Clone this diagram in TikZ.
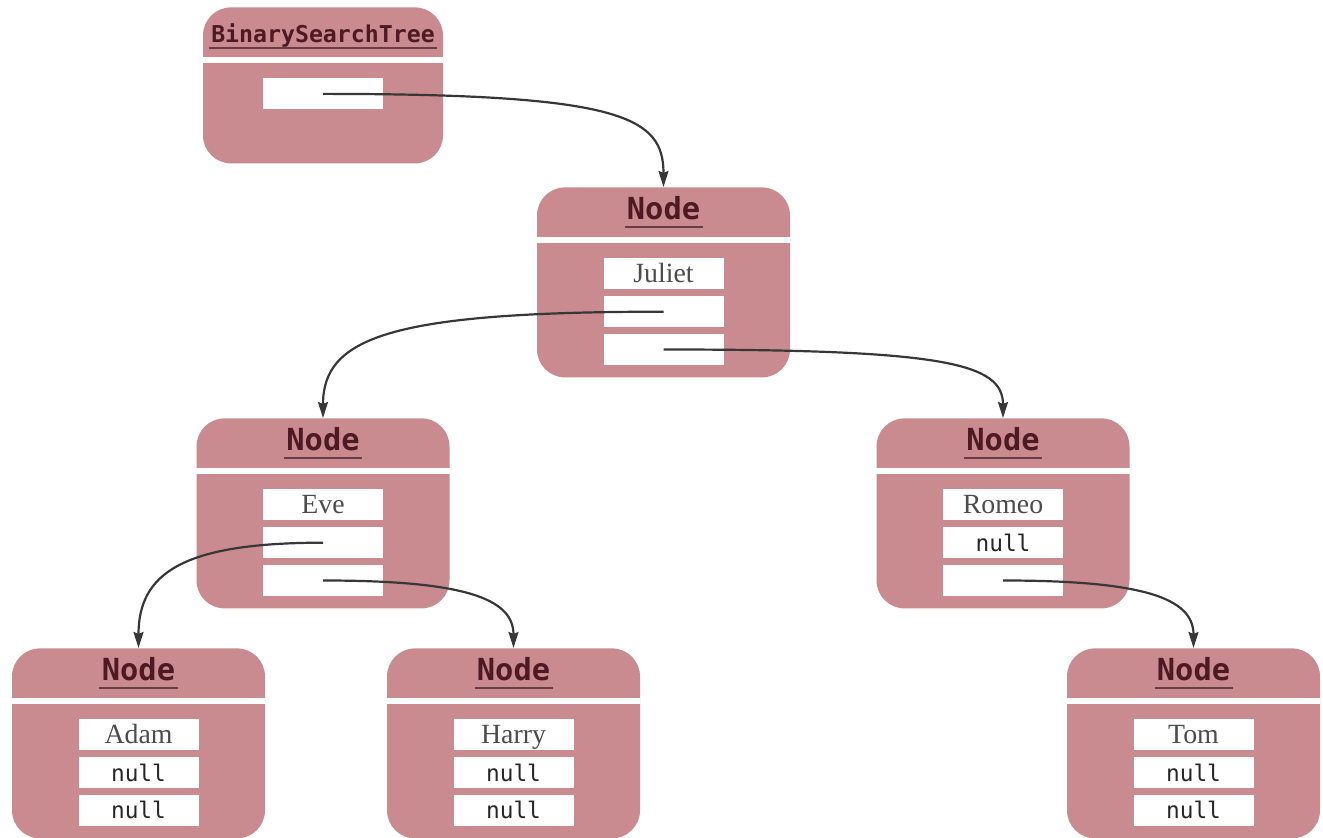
\documentclass[tikz,border=0pt]{standalone}
\usepackage{fontspec}
\setmainfont{Liberation Serif}
\newfontfamily\codefont{DejaVu Sans Mono}
\usepackage{xcolor}
\usetikzlibrary{positioning, arrows.meta}
\definecolor{boxpink}{RGB}{201,139,143}
\definecolor{titlered}{RGB}{77,26,36}
\definecolor{linegray}{RGB}{55,55,55}

\begin{document}
\begin{tikzpicture}[
  x=0.5pt, y=-0.5pt,
  node distance=3pt,
  classbox/.style={rectangle, rounded corners=14pt, fill=boxpink, minimum width=126.5pt,
                   minimum height=95pt, anchor=north, inner sep=0pt},
  heading/.style={anchor=base, inner sep=1pt, text=titlered,
                  font=\codefont\bfseries\fontsize{15.2}{18}\selectfont},
  field/.style={rectangle, fill=white, minimum width=60pt, minimum height=15.5pt, inner sep=0pt,
                text height=9.5pt, text depth=1pt, text=black!70, font=\fontsize{13.9}{16}\selectfont},
  nullfield/.style={field, text=black!85, font=\codefont\fontsize{11.4}{14}\selectfont},
  stripe/.style={draw=white, line width=3pt},
  uline/.style={draw=titlered!85, line width=1pt},
  arrow/.style={-{Stealth[length=8pt, width=5pt, inset=1pt]}, draw=linegray, line width=1.1pt}
]
\useasboundingbox (0,0) rectangle (1323,838);

% class boxes
\node[classbox, minimum width=120pt, minimum height=78pt] (bst) at (323,7) {};
\node[classbox] (jul) at (663.5,187) {};
\node[classbox] (eve) at (323,418) {};
\node[classbox] (rom) at (1003,418) {};
\node[classbox] (adam) at (138.5,648) {};
\node[classbox] (harry) at (513.5,648) {};
\node[classbox] (tom) at (1193.5,648) {};

% headings
\node[heading, font=\codefont\bfseries\fontsize{11.6}{14}\selectfont] (bsthead) at ([yshift=-18pt]bst.north) {BinarySearchTree};
\node[heading] (julhead) at ([yshift=-16.5pt]jul.north) {Node};
\node[heading] (evehead) at ([yshift=-16.5pt]eve.north) {Node};
\node[heading] (romhead) at ([yshift=-16.5pt]rom.north) {Node};
\node[heading] (adamhead) at ([yshift=-16.5pt]adam.north) {Node};
\node[heading] (harryhead) at ([yshift=-16.5pt]harry.north) {Node};
\node[heading] (tomhead) at ([yshift=-16.5pt]tom.north) {Node};

\draw[uline] ([yshift=-2.5pt]bsthead.base west) -- ([yshift=-2.5pt]bsthead.base east);
\foreach \h in {julhead, evehead, romhead, adamhead, harryhead, tomhead}
  \draw[uline] ([yshift=-3.5pt]\h.base west) -- ([yshift=-3.5pt]\h.base east);
\foreach \b in {bst, jul, eve, rom, adam, harry, tom}
  \draw[stripe] ([yshift=-26.5pt]\b.north west) -- ([yshift=-26.5pt]\b.north east);

% fields
\node[field, anchor=north] (bstroot) at ([yshift=-35.5pt]bst.north) {};

\node[field, anchor=north] (julkey) at ([yshift=-35.5pt]jul.north) {Juliet};
\node[field, below=of julkey] (julleft) {};
\node[field, below=of julleft] (julright) {};

\node[field, anchor=north] (evekey) at ([yshift=-35.5pt]eve.north) {Eve};
\node[field, below=of evekey] (eveleft) {};
\node[field, below=of eveleft] (everight) {};

\node[field, anchor=north] (romkey) at ([yshift=-35.5pt]rom.north) {Romeo};
\node[nullfield, below=of romkey] (romleft) {null};
\node[field, below=of romleft] (romright) {};

\node[field, anchor=north] (adamkey) at ([yshift=-35.5pt]adam.north) {Adam};
\node[nullfield, below=of adamkey] (adamleft) {null};
\node[nullfield, below=of adamleft] (adamright) {null};

\node[field, anchor=north] (harrykey) at ([yshift=-35.5pt]harry.north) {Harry};
\node[nullfield, below=of harrykey] (harryleft) {null};
\node[nullfield, below=of harryleft] (harryright) {null};

\node[field, anchor=north] (tomkey) at ([yshift=-35.5pt]tom.north) {Tom};
\node[nullfield, below=of tomkey] (tomleft) {null};
\node[nullfield, below=of tomleft] (tomright) {null};

% references
\draw[arrow] (bstroot.center) .. controls +(300,0) and +(0,-70) .. (jul.north);
\draw[arrow] (julleft.center) .. controls +(-275,0) and +(0,-80) .. (eve.north);
\draw[arrow] (julright.center) .. controls +(280,0) and +(0,-55) .. (rom.north);
\draw[arrow] (eveleft.center) .. controls +(-140,0) and +(0,-75) .. (adam.north);
\draw[arrow] (everight.center) .. controls +(140,0) and +(0,-50) .. (harry.north);
\draw[arrow] (romright.center) .. controls +(140,0) and +(0,-50) .. (tom.north);
\end{tikzpicture}
\end{document}
